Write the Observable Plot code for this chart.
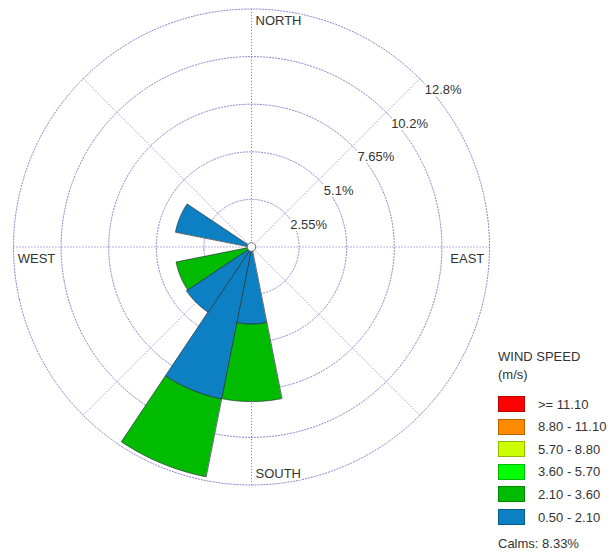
<!DOCTYPE html>
<html>
<head>
<meta charset="utf-8">
<script src="https://cdn.jsdelivr.net/npm/d3@7"></script>
<script src="https://cdn.jsdelivr.net/npm/@observablehq/plot@0.6"></script>
<style>
  html, body { margin: 0; padding: 0; background: #fff; }
  #chart { position: relative; width: 608px; height: 555px; font-family: "Liberation Sans", Arial, sans-serif; color: #333; }
  #chart svg { display: block; }
  .lg { position: absolute; font-size: 13px; line-height: 15px; white-space: nowrap; }
  .row { position: absolute; left: 498px; display: flex; align-items: center; height: 16px; font-size: 13px; line-height: 15px; }
  .sw { width: 25px; height: 14px; border: 1px solid rgba(0,0,0,0.28); margin-right: 13px; }
</style>
</head>
<body>
<div id="chart"></div>
<script>
// Sixteen compass sectors, clockwise from north
const directions = ["N","NNE","NE","ENE","E","ESE","SE","SSE","S","SSW","SW","WSW","W","WNW","NW","NNW"];

// Frequency (%) per direction for each wind-speed class (m/s)
const freq_050_210 = [0, 0, 0, 0, 0, 0, 0, 0, 4.13, 8.30, 4.20, 0, 0, 4.15, 0, 0];
const freq_210_360 = [0, 0, 0, 0, 0, 0, 0, 0, 4.15, 4.25, 0, 4.12, 0, 0, 0, 0];
const freq_360_570 = [0, 0, 0, 0, 0, 0, 0, 0, 0, 0, 0, 0, 0, 0, 0, 0];
const freq_570_880 = [0, 0, 0, 0, 0, 0, 0, 0, 0, 0, 0, 0, 0, 0, 0, 0];
const freq_880_1110 = [0, 0, 0, 0, 0, 0, 0, 0, 0, 0, 0, 0, 0, 0, 0, 0];
const freq_ge_1110 = [0, 0, 0, 0, 0, 0, 0, 0, 0, 0, 0, 0, 0, 0, 0, 0];

// Speed classes, innermost (slowest) first
const speedClasses = ["0.50 - 2.10", "2.10 - 3.60", "3.60 - 5.70", "5.70 - 8.80", "8.80 - 11.10", ">= 11.10"];
const speedColors = ["#0c80c2", "#00bb00", "#00ff00", "#ccff00", "#ff8c00", "#ff0000"];
const classFreqs = [freq_050_210, freq_210_360, freq_360_570, freq_570_880, freq_880_1110, freq_ge_1110];

// Frequency rings and their labels
const ringValues = [2.55, 5.1, 7.65, 10.2, 12.75];
const ringLabels = ["2.55%", "5.1%", "7.65%", "10.2%", "12.8%"];
const calmsPct = 8.33;

// Compass point labels
const compassNames = ["NORTH", "EAST", "SOUTH", "WEST"];
const compassBearings = [0, 90, 180, 270];

const maxR = ringValues[ringValues.length - 1];
const sectorWidth = 360 / directions.length;

// Polar placement: the projection is centred on the pole, so a compass
// bearing becomes a longitude and a frequency becomes a distance from the pole.
const lon = (bearing) => 180 - bearing;
const lat = (pct) => 90 - pct;

// Stacked petal segments, one polygon per direction and speed class
function sector(dirIndex, lo, hi, cls) {
  const b0 = dirIndex * sectorWidth - sectorWidth / 2;
  const b1 = dirIndex * sectorWidth + sectorWidth / 2;
  const step = 0.5;
  const ring = [];
  for (let b = b0; b <= b1 + 1e-9; b += step) ring.push([lon(b), lat(hi)]);
  const rin = Math.max(lo, 0.02);
  for (let b = b1; b >= b0 - 1e-9; b -= step) ring.push([lon(b), lat(rin)]);
  ring.push(ring[0]);
  return {type: "Feature", properties: {dir: directions[dirIndex], cls}, geometry: {type: "Polygon", coordinates: [ring]}};
}

const petals = [];
directions.forEach((d, i) => {
  let acc = 0;
  speedClasses.forEach((cls, k) => {
    const v = classFreqs[k][i];
    if (v > 0) {
      petals.push(sector(i, acc, acc + v, cls));
      acc += v;
    }
  });
});

const rings = ringValues.map((r) => d3.geoCircle().center([0, 90]).radius(r).precision(0.5)());
const spokes = [0, 45, 90, 135, 180, 225, 270, 315];
const ringLabelData = ringValues.map((r, i) => ({r, label: ringLabels[i]}));
const compassData = compassNames.map((name, i) => ({name, bearing: compassBearings[i]}));

const gridColor = "#8484cc";
const textStyle = {fontSize: 13, fontFamily: "Liberation Sans, Arial, sans-serif", fill: "#333", stroke: "white", strokeWidth: 4, paintOrder: "stroke"};

// Compass labels sit just inside the outer ring
const edgeR = maxR - 0.01;
function compassLabel(name, anchor, dx, dy) {
  return Plot.text(compassData.filter((d) => d.name === name), {
    x: (d) => lon(d.bearing), y: () => lat(edgeR), text: "name",
    textAnchor: anchor, lineAnchor: "middle", dx, dy, ...textStyle
  });
}

const plot = Plot.plot({
  width: 608,
  height: 555,
  marginLeft: 13,
  marginTop: 8.5,
  marginRight: 119,
  marginBottom: 70.5,
  projection: {
    type: "azimuthal-equidistant",
    rotate: [0, -90],
    clip: false,
    domain: d3.geoCircle().center([0, 90]).radius(maxR).precision(0.5)()
  },
  color: {domain: speedClasses, range: speedColors},
  marks: [
    Plot.geo(rings, {fill: "none", stroke: gridColor, strokeWidth: 1, strokeDasharray: "1.2,1.8"}),
    Plot.link(spokes, {
      x1: (b) => lon(b), y1: () => 90, x2: (b) => lon(b), y2: () => lat(maxR),
      stroke: gridColor, strokeWidth: 1, strokeDasharray: "1.2,1.8"
    }),
    Plot.geo(petals, {fill: (d) => d.properties.cls, stroke: "#263238", strokeWidth: 0.7}),
    Plot.dot([{lon: 0, lat: 90}], {x: "lon", y: "lat", r: 4.3, fill: "white", stroke: "#666", strokeWidth: 1}),
    Plot.text(ringLabelData, {
      x: () => lon(45), y: (d) => lat(d.r), text: "label",
      textAnchor: "start", lineAnchor: "middle", dx: 5, dy: 11, ...textStyle
    }),
    compassLabel("NORTH", "start", 4, 11.5),
    compassLabel("EAST", "end", -5, 12),
    compassLabel("SOUTH", "start", 4, -11),
    compassLabel("WEST", "start", 4, 12)
  ]
});

const chart = document.getElementById("chart");
chart.appendChild(plot);

// Legend: speed classes from fastest (top) to slowest, then calms
const lgTitle = document.createElement("div");
lgTitle.className = "lg";
lgTitle.style.left = "498px";
lgTitle.style.top = "349px";
lgTitle.textContent = "WIND SPEED";
chart.appendChild(lgTitle);

const lgUnit = document.createElement("div");
lgUnit.className = "lg";
lgUnit.style.left = "498px";
lgUnit.style.top = "367px";
lgUnit.textContent = "(m/s)";
chart.appendChild(lgUnit);

const legendOrder = speedClasses.slice().reverse();
legendOrder.forEach((cls, i) => {
  const row = document.createElement("div");
  row.className = "row";
  row.style.top = (396 + i * 22.6) + "px";
  const sw = document.createElement("div");
  sw.className = "sw";
  sw.style.background = speedColors[speedClasses.indexOf(cls)];
  const lab = document.createElement("span");
  lab.textContent = cls;
  row.appendChild(sw);
  row.appendChild(lab);
  chart.appendChild(row);
});

const lgCalms = document.createElement("div");
lgCalms.className = "lg";
lgCalms.style.left = "498px";
lgCalms.style.top = "536px";
lgCalms.textContent = "Calms: " + calmsPct.toFixed(2) + "%";
chart.appendChild(lgCalms);
</script>
</body>
</html>
